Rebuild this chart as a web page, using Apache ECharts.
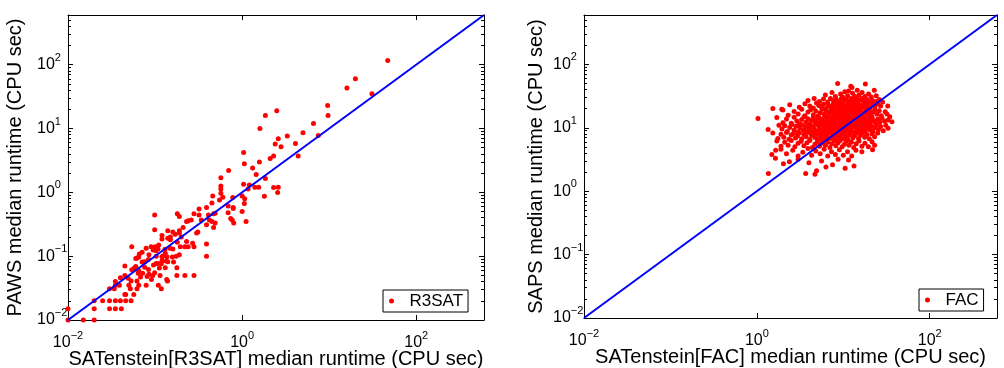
<!DOCTYPE html>
<html>
<head>
<meta charset="utf-8">
<script src="https://cdn.jsdelivr.net/npm/echarts@6/dist/echarts.min.js"></script>
<style>
html,body{margin:0;padding:0;background:#fff;}
#chart{width:1004px;height:368px;}
</style>
</head>
<body>
<div id="chart"></div>
<script>
// ---------- data ----------
const AXIS_MIN = 0.01;
const AXIS_MAX = 600;
const xTickValues = [0.01, 1, 100];
const yTickValues = [0.01, 0.1, 1, 10, 100];
const diagonal = [0.01, 600];

const r3satPoints = [
[47,116],[20,60],[16,43],[31,35],[9.6,23],[2.5,19],[1.85,16],[9.7,16],[1.6,10],[6.6,12],[5.0,8.6],[3.3,7.6],[7.5,7.8],[2.6,6.9],[2.4,5.7],[4.1,5.8],[2.8,5.2],[4.4,3.7],[2.3,3.7],[2.1,3.4],[1.04,4.2],[1.58,3.0],[1.06,2.8],[0.70,2.2],[1.32,2.4],[1.45,1.9],[1.85,1.65],[0.57,1.7],[1.04,1.34],[1.21,1.3],[1.17,1.13],[1.4,1.2],[1.55,1.2],[2.3,1.19],[2.6,1.2],[2.56,0.99],[1.8,0.87],[0.57,1.26],[0.57,1.13],[0.57,0.97],[0.60,0.84],[0.55,0.76],[0.46,0.88],[0.78,0.83],[1.0,0.88],[1.07,0.79],[1.06,0.67],[0.45,0.68],[0.69,0.61],[0.79,0.58],[0.79,0.56],[0.69,0.48],[1.0,0.5],[1.11,0.35],[0.74,0.39],[0.77,0.37],[0.80,0.33],[0.39,0.58],[0.32,0.55],[0.28,0.46],[0.32,0.44],[0.41,0.44],[0.47,0.46],[0.49,0.47],[0.34,0.37],[0.42,0.37],[0.45,0.35],[0.49,0.33],[0.47,0.28],[0.39,0.31],[0.31,0.24],[0.30,0.23],[0.26,0.37],[0.23,0.35],[0.24,0.36],[0.21,0.28],[0.18,0.46],[0.19,0.42],[0.19,0.25],[0.16,0.24],[0.19,0.23],[0.17,0.22],[0.14,0.25],[0.12,0.21],[0.15,0.20],[0.14,0.19],[0.15,0.18],[0.20,0.20],[0.23,0.17],[0.22,0.14],[0.18,0.165],[0.16,0.13],[0.175,0.10],[0.19,0.105],[0.195,0.14],[0.27,0.16],[0.28,0.14],[0.24,0.14],[0.12,0.185],[0.11,0.15],[0.108,0.13],[0.10,0.14],[0.099,0.26],[0.099,0.44],[0.09,0.14],[0.085,0.105],[0.095,0.125],[0.103,0.10],[0.12,0.098],[0.124,0.101],[0.134,0.084],[0.14,0.082],[0.163,0.081],[0.13,0.128],[0.066,0.108],[0.065,0.097],[0.062,0.094],[0.071,0.081],[0.06,0.092],[0.054,0.14],[0.045,0.07],[0.06,0.069],[0.076,0.067],[0.065,0.059],[0.072,0.054],[0.081,0.048],[0.085,0.052],[0.091,0.043],[0.099,0.055],[0.112,0.065],[0.131,0.066],[0.114,0.05],[0.094,0.05],[0.068,0.047],[0.065,0.035],[0.079,0.035],[0.109,0.035],[0.118,0.031],[0.136,0.043],[0.139,0.041],[0.178,0.05],[0.22,0.05],[0.28,0.05],[0.39,0.155],[0.39,0.10],[0.178,0.066],[0.053,0.041],[0.05,0.035],[0.04,0.046],[0.035,0.04],[0.035,0.035],[0.045,0.05],[0.062,0.041],[0.062,0.031],[0.052,0.031],[0.049,0.045],[0.057,0.025],[0.046,0.025],[0.039,0.035],[0.034,0.031],[0.03,0.031],[0.053,0.02],[0.046,0.02],[0.04,0.02],[0.035,0.02],[0.03,0.02],[0.025,0.02],[0.02,0.02],[0.041,0.015],[0.035,0.015],[0.03,0.015],[0.045,0.025],[0.02,0.015],[0.01,0.015],[0.01,0.01],[0.015,0.01],[0.02,0.01],[0.054,0.061],[0.058,0.065],[0.084,0.062],[0.103,0.077],[0.118,0.076],[0.096,0.073],[0.076,0.082],[0.084,0.089],[0.137,0.098],[0.158,0.097],[0.131,0.111],[0.148,0.133],[0.071,0.115],[0.079,0.133],[0.103,0.122],[0.108,0.077],[0.12,0.084],[0.064,0.054]
];

const facPoints = [
// y 38-50
[8.6,50],[12.2,45],[12.6,43],[18,49],[14.5,39],[22.8,39],[11.5,38],
// y 30-38
[6.2,33],[7.4,36],[8.1,31],[9.3,34],[10.4,37],[11.2,32],[12.8,35],[13.6,31],[15.2,33],[16.5,36],[17.8,31],[19.6,34],[21,30.5],[24,32],[9.8,30.5],[14.3,30],
// y 25-30
[3.9,27],[4.6,29],[5.3,26],[5.9,28.5],[6.6,25.5],[7.1,29],[7.7,26.5],[8.3,28],[8.9,25.5],[9.5,29],[10.1,26.5],[10.8,28],[11.5,25.8],[12.3,29],[13,26.5],[13.8,28],[14.7,25.5],[15.6,27.5],[16.6,29],[17.5,26],[18.7,28],[20,25.5],[21.5,27.5],[23.5,26],[26,28],[28.5,25.5],
// y 20-25
[2.4,23],[3.1,21],[3.6,24],[4.1,22],[4.5,20.5],[4.9,24.5],[5.2,22.5],[5.6,21],[5.9,23.5],[6.3,20.2],[6.6,24],[6.9,22],[7.3,20.8],[7.6,23.2],[8.0,21.5],[8.4,24.3],[8.7,20.3],[9.1,22.8],[9.5,21],[9.9,24],[10.3,22],[10.8,20.5],[11.2,23.5],[11.7,21.5],[12.2,24.5],[12.7,20.8],[13.3,22.8],[13.9,21],[14.5,24],[15.1,22],[15.8,20.3],[16.6,23.2],[17.4,21.2],[18.3,24],[19.3,22],[20.5,20.5],[21.8,23.5],[23.2,21.5],[25,24],[27,22],[32.7,22],
// y 15-20
[2.0,19],[2.3,15.8],[2.7,18],[3.0,16.5],[3.3,19.5],[3.6,15.5],[3.9,17.8],[4.2,19.2],[4.5,16],[4.8,18.3],[5.1,15.3],[5.4,17.2],[5.7,19.6],[6.0,16.4],[6.3,18.6],[6.6,15.6],[6.9,17.6],[7.2,19.3],[7.5,16.2],[7.8,18.2],[8.1,15.4],[8.4,17.4],[8.7,19.7],[9.0,16.6],[9.3,18.8],[9.6,15.8],[9.9,17.9],[10.3,19.4],[10.7,16.3],[11.1,18.4],[11.5,15.5],[11.9,17.5],[12.3,19.8],[12.8,16.8],[13.3,18.6],[13.8,15.7],[14.3,17.7],[14.9,19.5],[15.5,16.5],[16.1,18.5],[16.8,15.3],[17.5,17.3],[18.3,19.2],[19.1,16.2],[20,18],[21,15.6],[22,17.5],[23.2,19.3],[24.5,16.3],[26,18.5],[27.5,15.5],[30.5,17.9],[32,16.5],[34.5,14.9],[1.53,20.2],[1.94,19.5],
// y 11.5-15
[1.03,14],[1.7,14.5],[2.0,12],[2.2,13.8],[2.5,11.8],[2.7,14.6],[2.9,12.8],[3.1,11.6],[3.3,13.5],[3.5,14.8],[3.7,12.2],[3.9,13.9],[4.1,11.7],[4.3,13],[4.5,14.5],[4.7,12.4],[4.9,13.7],[5.1,11.9],[5.3,14.2],[5.5,12.7],[5.7,13.3],[5.9,11.6],[6.1,14.7],[6.3,12.3],[6.5,13.8],[6.7,12],[6.9,14.3],[7.1,12.9],[7.3,11.7],[7.5,13.6],[7.7,14.9],[7.9,12.5],[8.1,13.9],[8.3,11.8],[8.5,14.4],[8.7,12.8],[8.9,13.4],[9.1,11.6],[9.4,14.6],[9.7,12.4],[10,13.8],[10.3,11.9],[10.6,14.1],[10.9,12.9],[11.2,13.5],[11.5,11.7],[11.8,14.8],[12.2,12.3],[12.6,13.9],[13,12],[13.4,14.4],[13.8,12.8],[14.3,11.6],[14.8,13.6],[15.3,14.9],[15.8,12.5],[16.4,13.8],[17,11.8],[17.6,14.3],[18.3,12.9],[19,11.6],[19.8,13.7],[20.7,12.3],[21.6,14.5],[22.6,12.8],[23.7,11.7],[25,13.6],[26.5,12.2],[28,14.2],[30,12.8],[33,13.2],[36.5,12.4],
// y 8.5-11.5
[1.35,9.4],[1.53,8.3],[1.8,11],[1.95,9.6],[2.1,10.8],[2.25,8.7],[2.4,10.1],[2.55,11.3],[2.7,9.2],[2.85,10.6],[3.0,8.6],[3.15,9.9],[3.3,11.2],[3.45,9.1],[3.6,10.4],[3.75,8.8],[3.9,11],[4.05,9.7],[4.2,10.9],[4.35,8.6],[4.5,10.2],[4.65,9.3],[4.8,11.4],[5.0,8.9],[5.2,10.5],[5.4,9.5],[5.6,11.1],[5.8,8.7],[6.0,10],[6.2,11.3],[6.4,9.1],[6.6,10.7],[6.8,8.8],[7.0,9.8],[7.2,11.2],[7.4,9.3],[7.6,10.4],[7.8,8.6],[8.0,11],[8.2,9.6],[8.4,10.8],[8.6,8.9],[8.8,10.1],[9.0,11.4],[9.3,9.2],[9.6,10.6],[9.9,8.7],[10.2,10],[10.5,11.2],[10.8,9.4],[11.1,10.5],[11.4,8.8],[11.8,11],[12.2,9.7],[12.6,10.8],[13,8.6],[13.4,10.2],[13.9,11.3],[14.4,9.1],[14.9,10.4],[15.4,8.8],[16,11.1],[16.6,9.6],[17.2,10.7],[17.9,8.9],[18.6,10.1],[19.4,11.3],[20.2,9.3],[21.1,10.6],[22,8.7],[23,10],[24.2,11.2],[25.5,9.4],[27,10.5],[29,9],[31,11],[33,9.8],
// y 6.5-8.5
[1.75,6.8],[1.9,7.9],[2.05,7.1],[2.2,8.4],[2.35,6.6],[2.5,7.7],[2.65,8.1],[2.8,6.9],[2.95,7.4],[3.1,8.3],[3.3,6.7],[3.5,7.8],[3.7,7.2],[3.9,8.4],[4.1,6.6],[4.3,7.6],[4.5,8.1],[4.7,7],[4.9,7.9],[5.1,6.7],[5.3,8.3],[5.5,7.3],[5.7,6.6],[5.9,7.7],[6.1,8.2],[6.3,6.9],[6.5,7.5],[6.8,8.4],[7.1,6.8],[7.4,7.9],[7.7,7.2],[8.0,8.3],[8.3,6.6],[8.6,7.6],[8.9,8.1],[9.2,7],[9.6,7.8],[10,6.7],[10.4,8.2],[10.8,7.3],[11.3,6.6],[11.8,7.7],[12.3,8.4],[12.9,6.9],[13.5,7.5],[14.2,8.2],[15,6.8],[15.8,7.6],[16.7,8.3],[17.7,7.1],[18.8,7.8],[20,6.7],[21.5,8],[23,7.2],[25,8.3],
// y 4.8-6.5
[1.7,6.2],[1.9,5.1],[2.1,5.9],[2.3,5.3],[2.5,6.3],[2.75,5],[3.0,5.7],[3.25,6.1],[3.5,5.2],[3.8,5.8],[4.1,6.3],[4.4,4.9],[4.7,5.5],[5.0,6],[5.3,5.1],[5.6,5.7],[5.9,6.3],[6.2,5.3],[6.6,5.9],[7.0,4.9],[7.4,5.6],[7.8,6.2],[8.2,5.2],[8.7,5.8],[9.2,6.3],[9.7,5],[10.3,5.5],[10.9,6.1],[11.6,5.3],[12.4,5.9],[13.2,4.9],[14.1,5.6],[15.2,6.2],[16.4,5.1],[17.8,5.7],[19.5,5],[21.5,6],[23,5.3],
// y 3.5-4.8
[1.49,3.8],[1.65,4.4],[1.9,4.6],[2.2,3.9],[2.6,4.4],[3.0,3.6],[3.4,4.1],[3.9,4.7],[4.3,3.7],[4.8,4.3],[5.4,3.9],[6.0,4.6],[6.6,3.6],[7.3,4.2],[8.1,3.8],[9,4.5],[10,3.7],[11.2,4.2],[12.5,3.6],[14,4.4],[16.4,4.2],[21.8,4.5],
// y 1.8-3.5
[1.36,1.9],[1.64,3.3],[2.03,2.7],[2.38,2.9],[3.67,1.9],[4.7,1.85],[4.9,2.1],[10.5,2.3],[13.3,2.5],[3.0,3.2],[5.6,3.0],[7.5,2.6],[8.7,3.2],[6.3,2.4],[4.0,2.8],[11.5,3.1]
];

// ---------- chart ----------
const FONT = "'Liberation Sans', Arial, Helvetica, sans-serif";
const chart = echarts.init(document.getElementById('chart'), null, {renderer: 'canvas'});

function tickLabel(list) {
  return function (v) {
    for (const t of list) {
      if (Math.abs(Math.log10(v) - Math.log10(t)) < 1e-6) {
        const n = Math.round(Math.log10(t));
        const s = n < 0 ? '\u2212' + (-n) : String(n);
        return '{b|10}{s|' + s + '}';
      }
    }
    return '';
  };
}
const rich = {
  b: {fontSize: 16, lineHeight: 18, fontFamily: FONT, color: '#000'},
  s: {fontSize: 11, lineHeight: 11, padding: [0, 0, 14, 0], fontFamily: FONT, color: '#000'}
};
const lineStyle = {color: '#000', width: 1};

function xAxis(grid, pos, name) {
  const main = pos === 'bottom';
  return {
    type: 'log', logBase: 100, gridIndex: grid, position: pos,
    min: AXIS_MIN, max: AXIS_MAX,
    axisLine: {show: true, onZero: false, lineStyle},
    axisTick: {show: true, inside: true, length: 5, lineStyle},
    minorTick: {show: false},
    splitLine: {show: false},
    axisLabel: {show: main, margin: 14, formatter: tickLabel(xTickValues), rich},
    name: main ? name : '', nameLocation: 'middle', nameGap: 29, nameMoveOverlap: false,
    nameTextStyle: {fontSize: 20, fontFamily: FONT, color: '#000'}
  };
}
function yAxis(grid, pos, name, gap) {
  const main = pos === 'left';
  return {
    type: 'log', logBase: 10, gridIndex: grid, position: pos,
    min: AXIS_MIN, max: AXIS_MAX,
    axisLine: {show: true, onZero: false, lineStyle},
    axisTick: {show: true, inside: true, length: 5, lineStyle},
    minorTick: {show: true, splitNumber: 9, length: 3, lineStyle},
    splitLine: {show: false},
    axisLabel: {show: main, margin: 31, align: 'left', formatter: tickLabel(yTickValues), rich},
    name: main ? name : '', nameLocation: 'middle', nameGap: gap, nameMoveOverlap: false,
    nameTextStyle: {fontSize: 20, fontFamily: FONT, color: '#000'}
  };
}

const option = {
  animation: false,
  backgroundColor: '#fff',
  grid: [
    {left: 68, top: 15, width: 416, height: 305, outerBoundsMode: 'none', containLabel: false},
    {left: 584, top: 15, width: 413, height: 303, outerBoundsMode: 'none', containLabel: false}
  ],
  xAxis: [
    xAxis(0, 'bottom', 'SATenstein[R3SAT] median runtime (CPU sec)'),
    xAxis(0, 'top', ''),
    xAxis(1, 'bottom', 'SATenstein[FAC] median runtime (CPU sec)'),
    xAxis(1, 'top', '')
  ],
  yAxis: [
    yAxis(0, 'left', 'PAWS median runtime (CPU sec)', 43),
    yAxis(0, 'right', '', 0),
    yAxis(1, 'left', 'SAPS median runtime (CPU sec)', 38),
    yAxis(1, 'right', '', 0)
  ],
  legend: [
    {left: 383, top: 290, data: ['R3SAT'], icon: 'circle', itemWidth: 26, itemHeight: 5,
     padding: [2, 5, 2, 6], borderColor: '#000', borderWidth: 1, backgroundColor: '#fff',
     textStyle: {fontSize: 17, fontFamily: FONT, color: '#000', lineHeight: 18}},
    {left: 919, top: 289, data: ['FAC'], icon: 'circle', itemWidth: 26, itemHeight: 5,
     padding: [2, 5, 2, 6], borderColor: '#000', borderWidth: 1, backgroundColor: '#fff',
     textStyle: {fontSize: 17, fontFamily: FONT, color: '#000', lineHeight: 18}}
  ],
  series: [
    {type: 'scatter', name: 'R3SAT', xAxisIndex: 0, yAxisIndex: 0, data: r3satPoints,
     symbolSize: 5, itemStyle: {color: '#ff0000', opacity: 1}, z: 2},
    {type: 'line', name: 'diag1', xAxisIndex: 0, yAxisIndex: 0,
     data: [[diagonal[0], diagonal[0]], [diagonal[1], diagonal[1]]],
     showSymbol: false, lineStyle: {color: '#0000ff', width: 2}, z: 3},
    {type: 'scatter', name: 'FAC', xAxisIndex: 2, yAxisIndex: 2, data: facPoints,
     symbolSize: 5, itemStyle: {color: '#ff0000', opacity: 1}, z: 2},
    {type: 'line', name: 'diag2', xAxisIndex: 2, yAxisIndex: 2,
     data: [[diagonal[0], diagonal[0]], [diagonal[1], diagonal[1]]],
     showSymbol: false, lineStyle: {color: '#0000ff', width: 2}, z: 3}
  ]
};
chart.setOption(option);
</script>
</body>
</html>
